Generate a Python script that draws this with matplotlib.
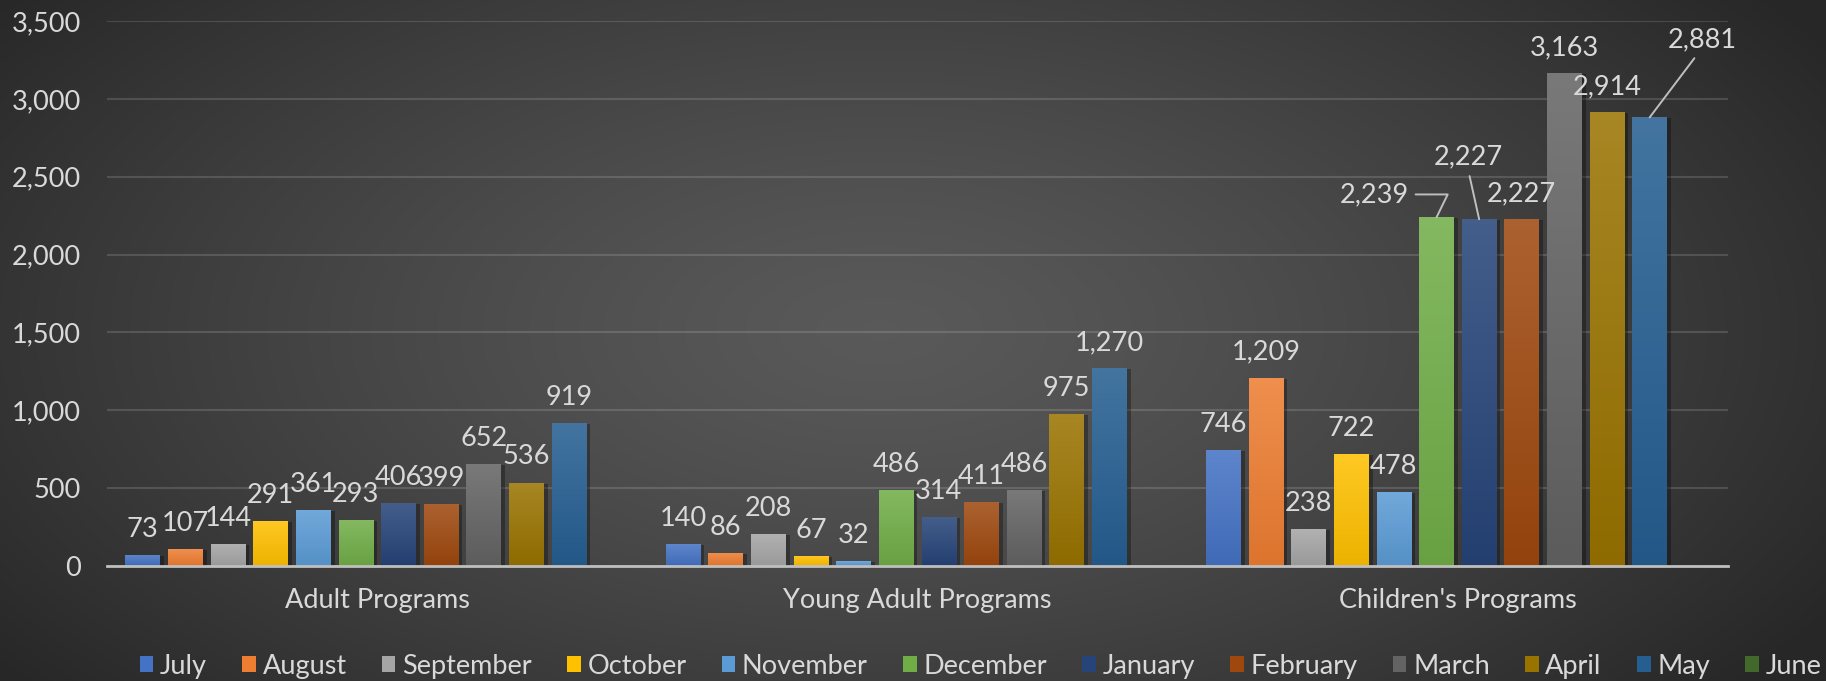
import numpy as np
import matplotlib
matplotlib.use("Agg")
import matplotlib.pyplot as plt
from matplotlib.colors import to_rgb
from matplotlib.patches import Patch, Rectangle
from matplotlib.transforms import ScaledTranslation

plt.rcParams['font.family'] = ['Lato', 'DejaVu Sans']

# Data
categories = ["Adult Programs", "Young Adult Programs", "Children's Programs"]
months = ["July", "August", "September", "October", "November", "December",
          "January", "February", "March", "April", "May", "June"]
july = [73, 140, 746]
august = [107, 86, 1209]
september = [144, 208, 238]
october = [291, 67, 722]
november = [361, 32, 478]
december = [293, 486, 2239]
january = [406, 314, 2227]
february = [399, 411, 2227]
march = [652, 486, 3163]
april = [536, 975, 2914]
may = [919, 1270, 2881]
june = [np.nan, np.nan, np.nan]
series = [july, august, september, october, november, december,
          january, february, march, april, may, june]

colors = ['#4472C4', '#ED7D31', '#A5A5A5', '#FFC000', '#5B9BD5', '#70AD47',
          '#264478', '#9E480E', '#636363', '#997300', '#255E91', '#43682B']

TXT = '#d9d9d9'
FS = 19.5

fig = plt.figure(figsize=(18.26, 6.81), dpi=100)
fig.patch.set_facecolor('#2a2a2a')

# radial background
bg = fig.add_axes([0, 0, 1, 1], zorder=0)
yy, xx = np.mgrid[0:681, 0:1826]
r = np.sqrt(((xx - 880) / 1100.0) ** 2 + ((yy - 330) / 560.0) ** 2)
r = np.clip(r, 0, 1)
c_in, c_out = np.array([0.35, 0.35, 0.35]), np.array([0.155, 0.155, 0.155])
img = c_in + (c_out - c_in) * r[..., None] ** 1.3
bg.imshow(img, aspect='auto', extent=(0, 1, 0, 1), origin='upper')
bg.axis('off')

ax = fig.add_axes([107 / 1826, 1 - 566 / 681, 1621 / 1826, 545 / 681], zorder=1)
ax.set_facecolor('none')

x = np.arange(len(categories))
slot = 0.0789
bw = 0.064
shadow_tf = ax.transData + ScaledTranslation(4 / 100, -1 / 100, fig.dpi_scale_trans)

# special label placements (series, category): (dx pt, dy pt, relpos, connection)
special = {
    (5, 2): (-45, 16.5, (1, 0.5), "angle,angleA=0,angleB=64,rad=0"),
    (6, 2): (-8, 45, (0.5, 0), "arc3"),
    (10, 2): (38, 56, (0.45, 0), "arc3"),
}

for i, (vals, c) in enumerate(zip(series, colors)):
    pos = x + (i - 5.5) * slot
    base = np.array(to_rgb(c))
    top = base + (1 - base) * 0.14
    bot = base * 0.93
    bars = ax.bar(pos, vals, width=bw, color=c, zorder=3, linewidth=0)
    for j, b in enumerate(bars):
        v = vals[j]
        if np.isnan(v):
            continue
        x0, y0, w, h = b.get_x(), b.get_y(), b.get_width(), b.get_height()
        sh = Rectangle((x0, y0), w, h, facecolor='black', alpha=0.3,
                       transform=shadow_tf, zorder=2, linewidth=0)
        ax.add_patch(sh)
        t = np.linspace(0, 1, 64)[:, None, None]
        grad = top * (1 - t) + bot * t
        im = ax.imshow(grad, extent=(x0, x0 + w, y0, y0 + h), aspect='auto',
                       origin='upper', zorder=3.2)
        im.set_clip_path(b)
        label = f"{int(v):,}"
        if (i, j) in special:
            dx, dy, rp, cs = special[(i, j)]
            ax.annotate(label, (x0 + w / 2, v), xytext=(dx, dy),
                        textcoords='offset points', ha='center', va='center',
                        fontsize=FS, color=TXT, zorder=5,
                        arrowprops=dict(arrowstyle='-', color='#bfbfbf', lw=1.4,
                                        relpos=rp, shrinkA=3, shrinkB=0,
                                        connectionstyle=cs))
        else:
            ax.annotate(label, (x0 + w / 2, v), xytext=(0, 13),
                        textcoords='offset points', ha='center', va='baseline',
                        fontsize=FS, color=TXT, zorder=5)

ax.set_xlim(-0.5, 2.5)
ax.set_ylim(0, 3500)
ax.set_yticks(np.arange(0, 3501, 500))
ax.set_yticklabels([f"{t:,}" for t in range(0, 3501, 500)])
ax.set_xticks(x)
ax.set_xticklabels(categories)
ax.tick_params(axis='y', length=0, pad=19, labelsize=FS, labelcolor=TXT)
ax.tick_params(axis='x', length=0, pad=16, labelsize=FS, labelcolor=TXT)
ax.grid(axis='y', color='white', alpha=0.14, linewidth=1.5, zorder=1)
ax.set_axisbelow(True)
for s in ['top', 'right', 'left']:
    ax.spines[s].set_visible(False)
ax.spines['bottom'].set_color('#bfbfbf')
ax.spines['bottom'].set_linewidth(2)
ax.spines['bottom'].set_zorder(4)

handles = [Patch(facecolor=c, edgecolor='none') for c in colors]
leg = fig.legend(handles, months, loc='center', bbox_to_anchor=(0.537, 0.022),
                 ncol=12, frameon=False, fontsize=FS, labelcolor=TXT,
                 handlelength=0.5, handleheight=0.5, handletextpad=0.25,
                 columnspacing=1.3)

fig.savefig('out.png', dpi=100, facecolor=fig.get_facecolor())
